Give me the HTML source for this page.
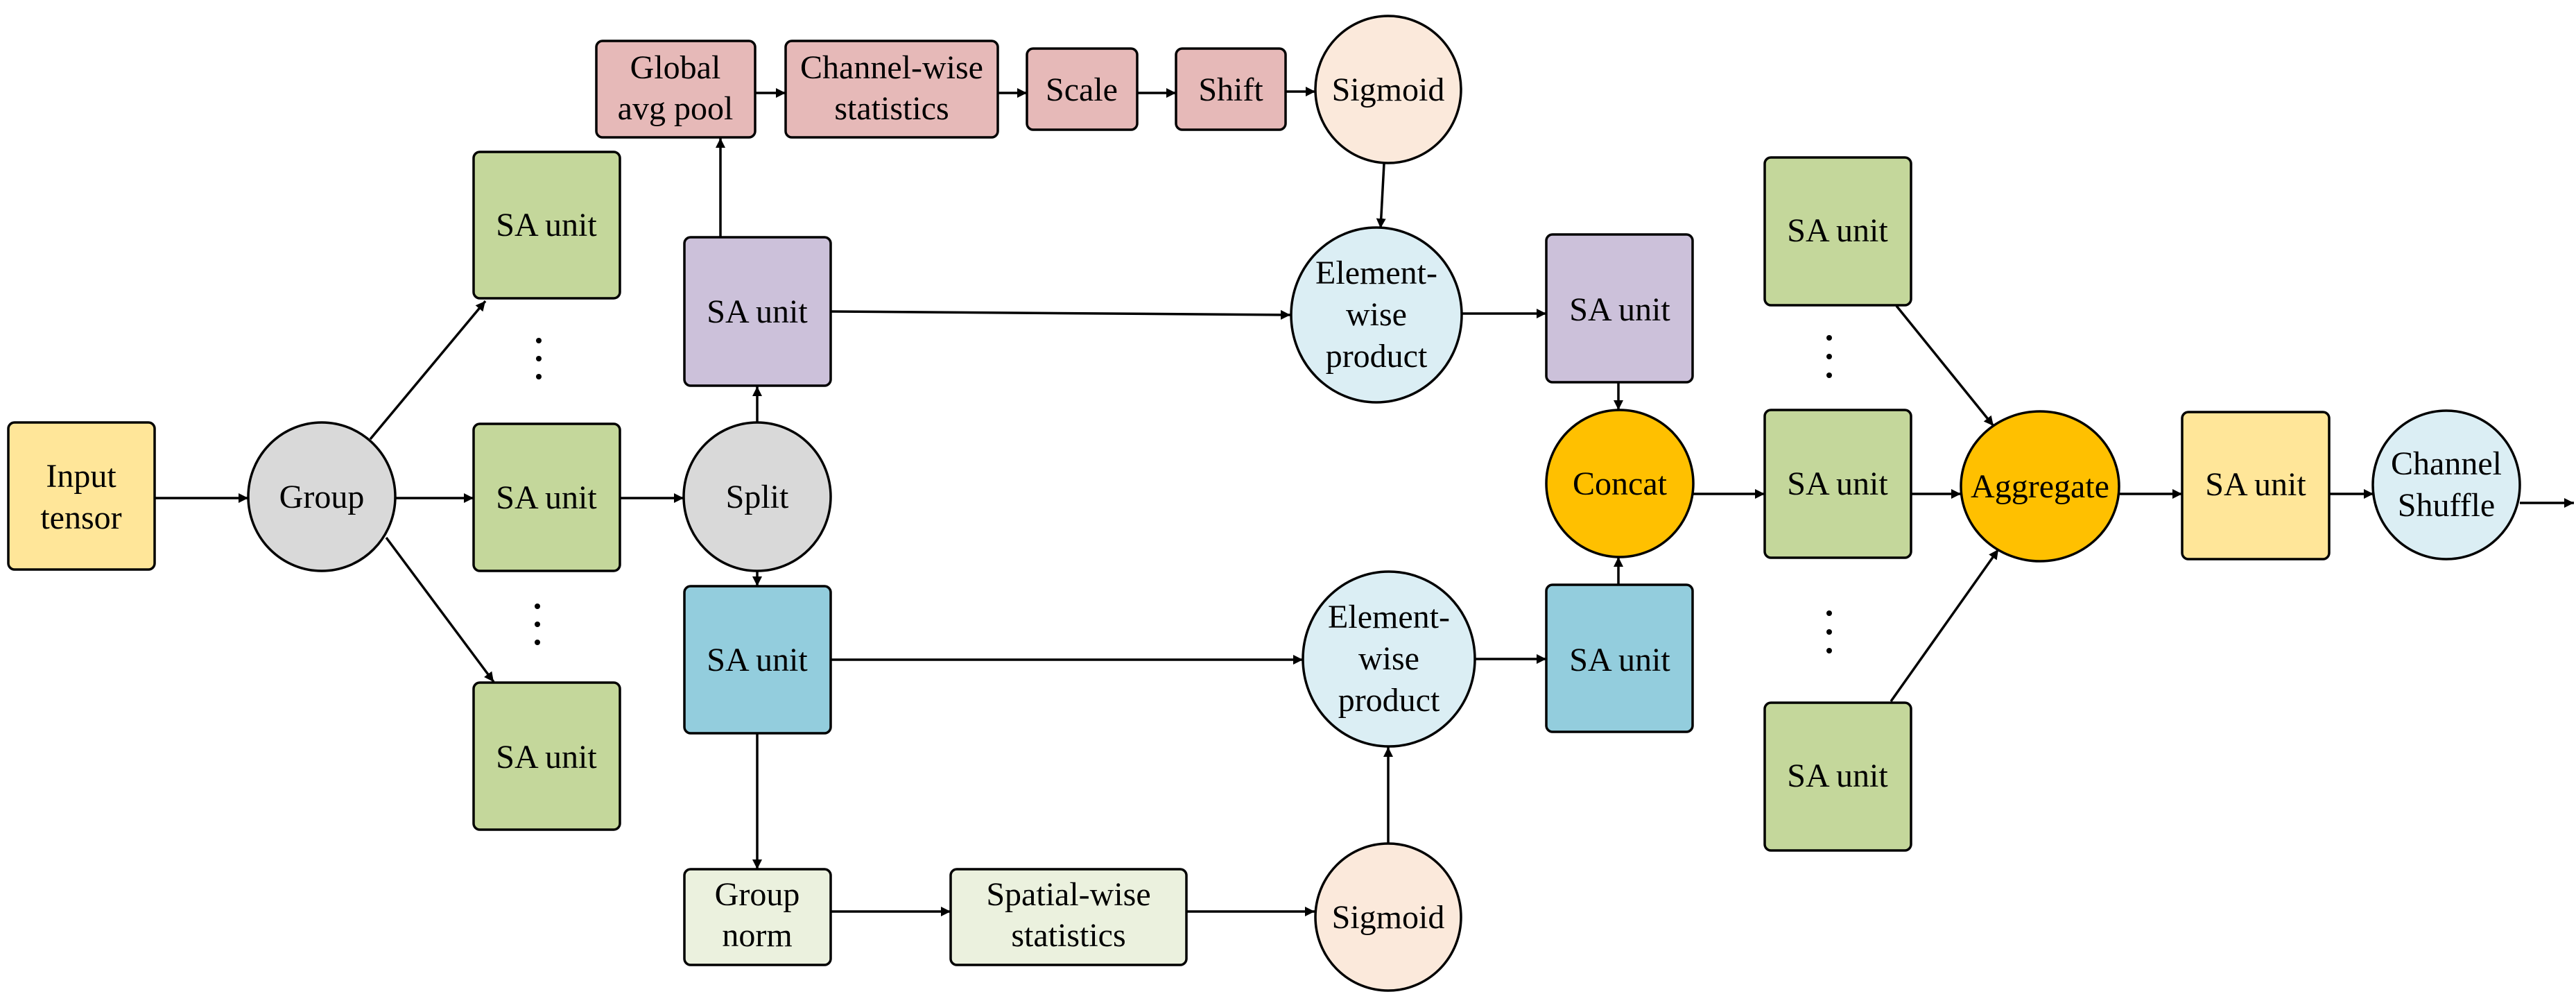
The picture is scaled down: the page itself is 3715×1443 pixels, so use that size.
<!DOCTYPE html>
<html><head><meta charset="utf-8"><style>html,body{margin:0;padding:0;background:#fff;font-family:"Liberation Serif","DejaVu Serif",serif}svg{display:block}
text{font-family:"Liberation Serif","DejaVu Serif","Times New Roman",serif !important;font-size:48px}</style></head><body>
<svg width="3715" height="1443" viewBox="0 0 3715 1443" xmlns="http://www.w3.org/2000/svg">
<defs>
<marker id="a" viewBox="0 0 10 10" refX="10" refY="5" markerWidth="4" markerHeight="4.5" markerUnits="strokeWidth" orient="auto"><path d="M0,0 L10,5 L0,10 z" fill="#000"/></marker>
</defs>
<g stroke="#000" stroke-width="3.5" fill="none" marker-end="url(#a)">
<line x1="223" y1="718" x2="358" y2="718"/>
<line x1="534" y1="633" x2="700" y2="434"/>
<line x1="570" y1="718" x2="683" y2="718"/>
<line x1="557" y1="775" x2="712" y2="983"/>
<line x1="894" y1="718" x2="986" y2="718"/>
<line x1="1092" y1="609" x2="1092" y2="557"/>
<line x1="1092" y1="823" x2="1092" y2="845"/>
<line x1="1039" y1="342" x2="1039" y2="199"/>
<line x1="1089" y1="134" x2="1133" y2="134"/>
<line x1="1439" y1="134" x2="1481" y2="134"/>
<line x1="1640" y1="134" x2="1696" y2="134"/>
<line x1="1854" y1="132" x2="1897" y2="132"/>
<line x1="1996" y1="236" x2="1991" y2="329"/>
<line x1="1198" y1="449" x2="1861" y2="454"/>
<line x1="1198" y1="951" x2="1879" y2="951"/>
<line x1="1092" y1="1057" x2="1092" y2="1253"/>
<line x1="1198" y1="1314" x2="1371" y2="1314"/>
<line x1="1711" y1="1314" x2="1896" y2="1314"/>
<line x1="2002" y1="1216" x2="2002" y2="1077"/>
<line x1="2108" y1="452" x2="2230" y2="452"/>
<line x1="2127" y1="950" x2="2230" y2="950"/>
<line x1="2334" y1="551" x2="2334" y2="591"/>
<line x1="2334" y1="843" x2="2334" y2="803"/>
<line x1="2442" y1="712" x2="2545" y2="712"/>
<line x1="2756" y1="712" x2="2828" y2="712"/>
<line x1="2735" y1="441" x2="2875" y2="614"/>
<line x1="2727" y1="1011" x2="2882" y2="792"/>
<line x1="3056" y1="712" x2="3147" y2="712"/>
<line x1="3359" y1="712" x2="3423" y2="712"/>
<line x1="3634" y1="725" x2="3712" y2="725"/>
</g>
<g stroke="#000" stroke-width="3.5">
<rect x="12" y="609" width="211" height="212" rx="9" fill="#FFE699"/>
<ellipse cx="464" cy="716" rx="106" ry="107" fill="#D9D9D9"/>
<rect x="683" y="219" width="211" height="211" rx="9" fill="#C4D79B"/>
<rect x="683" y="611" width="211" height="212" rx="9" fill="#C4D79B"/>
<rect x="683" y="984" width="211" height="212" rx="9" fill="#C4D79B"/>
<ellipse cx="1092" cy="716" rx="106" ry="107" fill="#D9D9D9"/>
<rect x="987" y="342" width="211" height="214" rx="9" fill="#CCC1DA"/>
<rect x="987" y="845" width="211" height="212" rx="9" fill="#93CDDD"/>
<rect x="860" y="59" width="229" height="139" rx="9" fill="#E6B9B8"/>
<rect x="1133" y="59" width="306" height="139" rx="9" fill="#E6B9B8"/>
<rect x="1481" y="70" width="159" height="117" rx="9" fill="#E6B9B8"/>
<rect x="1696" y="70" width="158" height="117" rx="9" fill="#E6B9B8"/>
<ellipse cx="2002" cy="129" rx="105" ry="106" fill="#FBE9DB"/>
<rect x="987" y="1253" width="211" height="138" rx="9" fill="#EBF1DE"/>
<rect x="1371" y="1253" width="340" height="138" rx="9" fill="#EBF1DE"/>
<ellipse cx="2002" cy="1322" rx="105" ry="106" fill="#FBE9DB"/>
<ellipse cx="1985" cy="454" rx="123" ry="126" fill="#DBEEF4"/>
<ellipse cx="2003" cy="950" rx="124" ry="126" fill="#DBEEF4"/>
<rect x="2230" y="338" width="211" height="213" rx="9" fill="#CCC1DA"/>
<ellipse cx="2336" cy="697" rx="106" ry="106" fill="#FFC000"/>
<rect x="2230" y="843" width="211" height="212" rx="9" fill="#93CDDD"/>
<rect x="2545" y="227" width="211" height="213" rx="9" fill="#C4D79B"/>
<rect x="2545" y="591" width="211" height="213" rx="9" fill="#C4D79B"/>
<rect x="2545" y="1013" width="211" height="213" rx="9" fill="#C4D79B"/>
<ellipse cx="2942" cy="701" rx="114" ry="108" fill="#FFC000"/>
<rect x="3147" y="594" width="212" height="212" rx="9" fill="#FFE699"/>
<ellipse cx="3528" cy="699" rx="106" ry="107" fill="#DBEEF4"/>
</g>
<g fill="#000">
<circle cx="777" cy="491" r="4"/><circle cx="777" cy="517" r="4"/><circle cx="777" cy="543" r="4"/>
<circle cx="775" cy="874" r="4"/><circle cx="775" cy="900" r="4"/><circle cx="775" cy="926" r="4"/>
<circle cx="2638" cy="487" r="4"/><circle cx="2638" cy="514" r="4"/><circle cx="2638" cy="541" r="4"/>
<circle cx="2638" cy="884" r="4"/><circle cx="2638" cy="911" r="4"/><circle cx="2638" cy="938" r="4"/>
</g>
<g text-anchor="middle" fill="#000" style="font-family:'Liberation Serif','DejaVu Serif',serif">
<text x="117" y="702">Input</text><text x="117" y="762">tensor</text>
<text x="464" y="732">Group</text>
<text x="788" y="340">SA unit</text>
<text x="788" y="733">SA unit</text>
<text x="788" y="1107">SA unit</text>
<text x="1092" y="732">Split</text>
<text x="1092" y="465">SA unit</text>
<text x="1092" y="967">SA unit</text>
<text x="974" y="113">Global</text><text x="974" y="172">avg pool</text>
<text x="1286" y="113">Channel-wise</text><text x="1286" y="172">statistics</text>
<text x="1560" y="145">Scale</text>
<text x="1775" y="145">Shift</text>
<text x="2002" y="145">Sigmoid</text>
<text x="1092" y="1305">Group</text><text x="1092" y="1364">norm</text>
<text x="1541" y="1305">Spatial-wise</text><text x="1541" y="1364">statistics</text>
<text x="2002" y="1338">Sigmoid</text>
<text x="1985" y="409">Element-</text><text x="1985" y="469">wise</text><text x="1985" y="529">product</text>
<text x="2003" y="905">Element-</text><text x="2003" y="965">wise</text><text x="2003" y="1025">product</text>
<text x="2336" y="462">SA unit</text>
<text x="2336" y="713">Concat</text>
<text x="2336" y="967">SA unit</text>
<text x="2650" y="348">SA unit</text>
<text x="2650" y="713">SA unit</text>
<text x="2650" y="1134">SA unit</text>
<text x="2942" y="717">Aggregate</text>
<text x="3253" y="714">SA unit</text>
<text x="3528" y="684">Channel</text><text x="3528" y="744">Shuffle</text>
</g>
</svg>
</body></html>
